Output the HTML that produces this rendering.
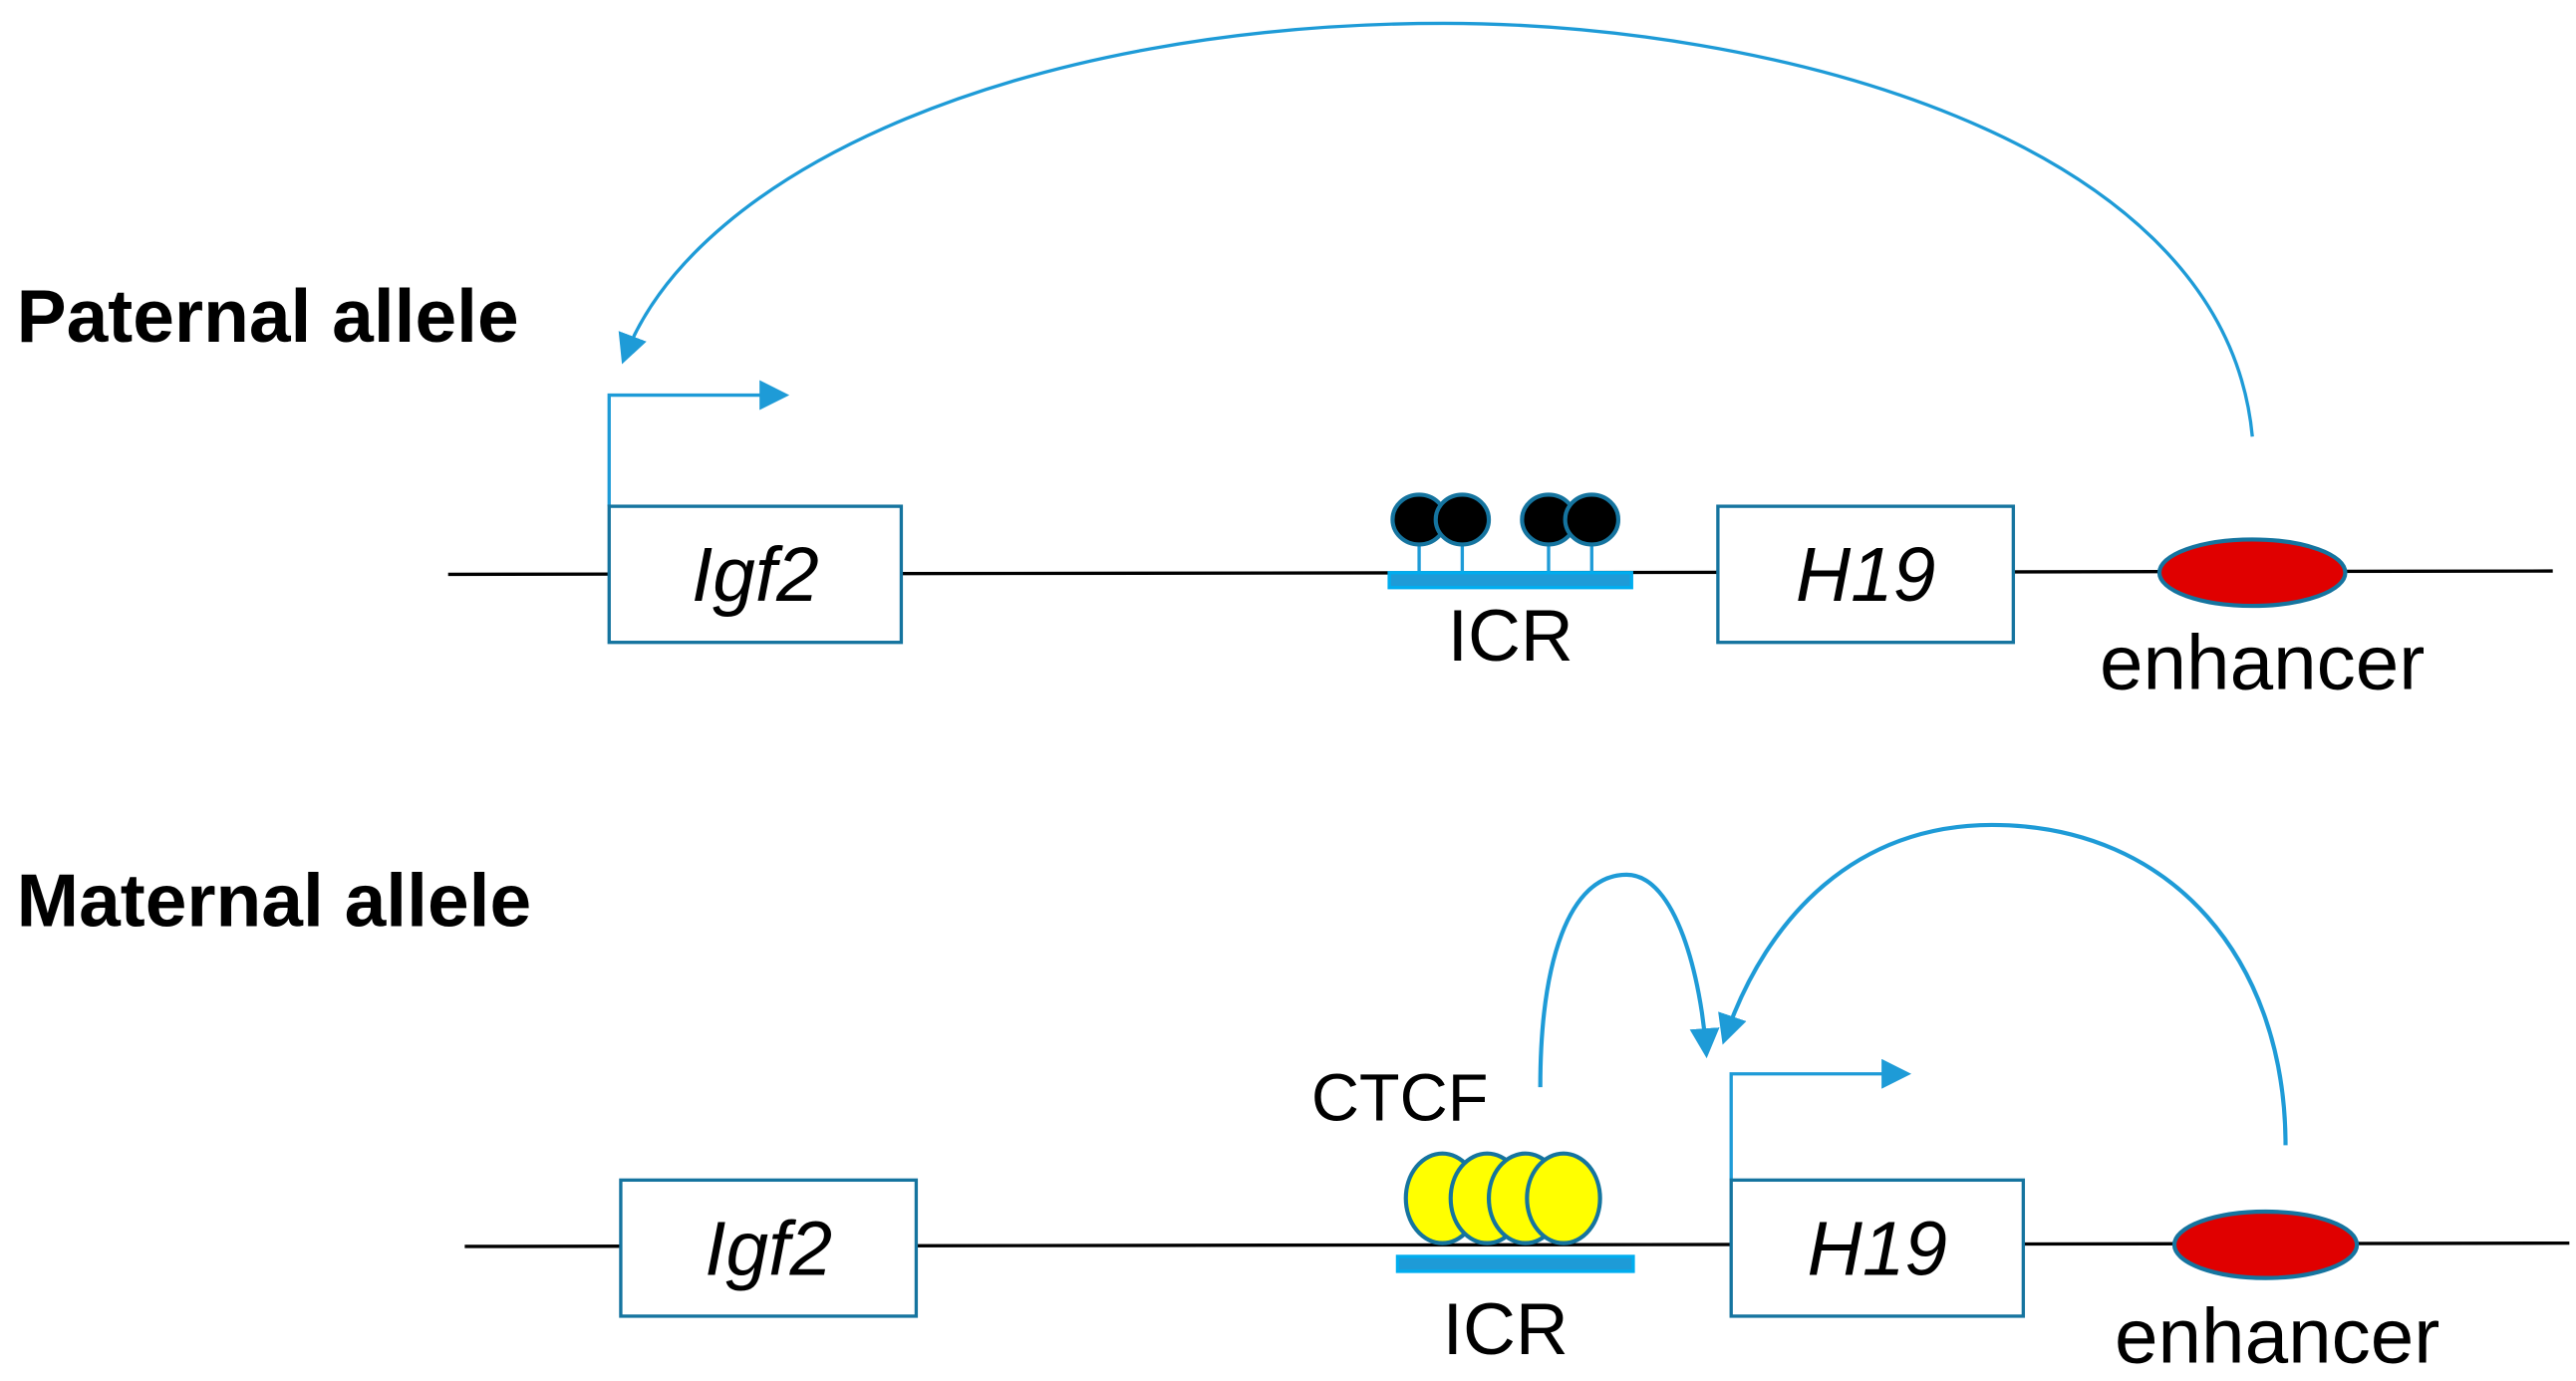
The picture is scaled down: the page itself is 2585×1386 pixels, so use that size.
<!DOCTYPE html>
<html><head><meta charset="utf-8"><style>
html,body{margin:0;padding:0;background:#fff;}
svg{display:block;}
</style></head><body>
<svg width="2585" height="1386" viewBox="0 0 1552 832" xmlns="http://www.w3.org/2000/svg">
<defs>
<marker id="ah2" viewBox="0 0 10 10" refX="8" refY="5" markerWidth="18" markerHeight="18" orient="auto" markerUnits="userSpaceOnUse">
<path d="M0,0 L10,5 L0,10 z" fill="#1e9bd7"/>
</marker>
</defs>
<g font-family="Liberation Sans, sans-serif">
<text x="10" y="206" font-size="45" font-weight="bold" fill="#000">Paternal allele</text>
<text x="10" y="558" font-size="45" font-weight="bold" fill="#000">Maternal allele</text>

<!-- top row -->
<line x1="270" y1="346" x2="1538" y2="344" stroke="#000" stroke-width="2"/>
<path d="M367 305 V238 H472" fill="none" stroke="#1e9bd7" stroke-width="2" marker-end="url(#ah2)"/>
<rect x="367" y="305" width="176" height="82" fill="#fff" stroke="#15749f" stroke-width="2"/>
<text x="455" y="362" font-size="46" font-style="italic" text-anchor="middle">Igf2</text>
<rect x="1035" y="305" width="178" height="82" fill="#fff" stroke="#15749f" stroke-width="2"/>
<text x="1124" y="362" font-size="46" font-style="italic" text-anchor="middle">H19</text>
<g stroke="#1e9bd7" stroke-width="2">
<line x1="855" y1="349" x2="855" y2="318"/><line x1="881" y1="349" x2="881" y2="318"/>
<line x1="933" y1="349" x2="933" y2="318"/><line x1="959" y1="349" x2="959" y2="318"/>
</g>
<g fill="#000" stroke="#15749f" stroke-width="2.5">
<ellipse cx="855" cy="313" rx="16" ry="15"/><ellipse cx="881" cy="313" rx="16" ry="15"/>
<ellipse cx="933" cy="313" rx="16" ry="15"/><ellipse cx="959" cy="313" rx="16" ry="15"/>
</g>
<rect x="837" y="345" width="146" height="9" fill="#1e9bd7" stroke="#00adef" stroke-width="2"/>
<text x="910" y="398" font-size="44" text-anchor="middle">ICR</text>
<ellipse cx="1357" cy="345" rx="56" ry="20" fill="#e00000" stroke="#15749f" stroke-width="2.5"/>
<text x="1363" y="415" font-size="47" text-anchor="middle">enhancer</text>
<path d="M1357 263 C1340 80 1060 14 870 14 C620 14 420 100 376 216" fill="none" stroke="#1e9bd7" stroke-width="2" marker-end="url(#ah2)"/>

<!-- bottom row -->
<line x1="280" y1="751" x2="1548" y2="749" stroke="#000" stroke-width="2"/>
<path d="M1043 711 V647 H1148" fill="none" stroke="#1e9bd7" stroke-width="2" marker-end="url(#ah2)"/>
<rect x="374" y="711" width="178" height="82" fill="#fff" stroke="#15749f" stroke-width="2"/>
<text x="463" y="768" font-size="46" font-style="italic" text-anchor="middle">Igf2</text>
<rect x="1043" y="711" width="176" height="82" fill="#fff" stroke="#15749f" stroke-width="2"/>
<text x="1131" y="768" font-size="46" font-style="italic" text-anchor="middle">H19</text>
<g fill="#ffff00" stroke="#15749f" stroke-width="2.5">
<ellipse cx="869" cy="722" rx="22" ry="27"/><ellipse cx="896" cy="722" rx="22" ry="27"/>
<ellipse cx="919" cy="722" rx="22" ry="27"/><ellipse cx="942" cy="722" rx="22" ry="27"/>
</g>
<rect x="842" y="757" width="142" height="9" fill="#1e9bd7" stroke="#00adef" stroke-width="2"/>
<text x="907" y="816" font-size="44" text-anchor="middle">ICR</text>
<text x="790" y="675" font-size="40">CTCF</text>
<ellipse cx="1365" cy="750" rx="55" ry="20" fill="#e00000" stroke="#15749f" stroke-width="2.5"/>
<text x="1372" y="821" font-size="47" text-anchor="middle">enhancer</text>
<path d="M928 655 C928 580 945 527 980 527 C1010 527 1025 590 1028 634" fill="none" stroke="#1e9bd7" stroke-width="2.5" marker-end="url(#ah2)"/>
<path d="M1377 690 C1377 580 1310 497 1200 497 C1120 497 1065 550 1039 626" fill="none" stroke="#1e9bd7" stroke-width="2.5" marker-end="url(#ah2)"/>
</g>
</svg>
</body></html>
